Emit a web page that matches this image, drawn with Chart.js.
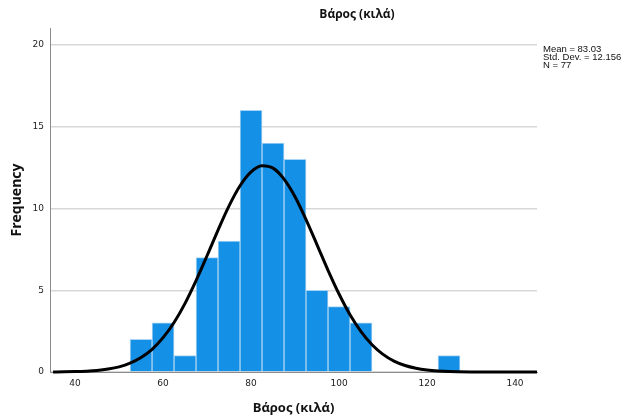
<!DOCTYPE html>
<html>
<head>
<meta charset="utf-8">
<script src="https://cdn.jsdelivr.net/npm/chart.js@4.4.0/dist/chart.umd.min.js"></script>
<style>
    html, body { margin: 0; padding: 0; background: #ffffff; }
    #wrap { width: 628px; height: 416px; }
</style>
</head>
<body>
<div id="wrap"><canvas id="histChart" width="628" height="416"></canvas></div>
<script>
// histogram bins (centre of each 5 kg bin) and counts
const binCenters = [55, 60, 65, 70, 75, 80, 85, 90, 95, 100, 105, 125];
const frequencies = [2, 3, 1, 7, 8, 16, 14, 13, 5, 4, 3, 1];

// normal curve, every 2.5 kg
const curveX = [35, 37.5, 40, 42.5, 45, 47.5, 50, 52.5, 55, 57.5, 60, 62.5, 65, 67.5, 70, 72.5, 75, 77.5, 80, 82.5,
    85, 87.5, 90, 92.5, 95, 97.5, 100, 102.5, 105, 107.5, 110, 112.5, 115, 117.5, 120, 122.5, 125, 130, 135, 140, 145];
const curveY = [0.005, 0.01, 0.024, 0.05, 0.095, 0.18, 0.315, 0.54, 0.885, 1.39, 2.10, 3.03, 4.20, 5.59, 7.11, 8.68, 10.16, 11.39, 12.24, 12.62,
    12.47, 11.80, 10.72, 9.32, 7.78, 6.22, 4.77, 3.50, 2.47, 1.67, 1.08, 0.67, 0.40, 0.23, 0.124, 0.065, 0.033, 0.007, 0.001, 0, 0];

const xTicks = [40, 60, 80, 100, 120, 140];
const yTicks = [0, 5, 10, 15, 20];

const chartTitle = 'Βάρος (κιλά)';
const xTitle = 'Βάρος (κιλά)';
const yTitle = 'Frequency';
const statLines = ['Mean = 83.03', 'Std. Dev. = 12.156', 'N = 77'];

const tickColor = '#222222';
const gridColor = '#d8d8d8';
const axisColor = '#8c8c8c';

// title and the stats box are placed by hand, like SPSS does
const textPlugin = {
    id: 'spssText',
    afterDraw(chart) {
        const ctx = chart.ctx;
        ctx.save();
        ctx.fillStyle = '#111111';
        ctx.font = 'bold 12px "Open Sans"';
        ctx.textAlign = 'center';
        ctx.textBaseline = 'middle';
        ctx.fillText(chartTitle, 357, 15);

        ctx.font = '9.5px "Liberation Sans"';
        ctx.textAlign = 'left';
        ctx.textBaseline = 'top';
        statLines.forEach((line, i) => ctx.fillText(line, 543, 45 + i * 8));
        ctx.restore();
    }
};

const ctx = document.getElementById('histChart').getContext('2d');
new Chart(ctx, {
    type: 'bar',
    data: {
        datasets: [{
            type: 'line',
            data: curveX.map((x, i) => ({ x: x, y: curveY[i] })),
            borderColor: '#000000',
            borderWidth: 3,
            pointRadius: 0,
            cubicInterpolationMode: 'monotone',
            fill: false,
            clip: false,
            order: 0
        }, {
            type: 'bar',
            data: binCenters.map((x, i) => ({ x: x, y: frequencies[i] })),
            backgroundColor: '#1490e6',
            borderColor: '#a9d4f3',
            borderWidth: 1,
            barPercentage: 1,
            categoryPercentage: 1,
            order: 1
        }]
    },
    options: {
        responsive: false,
        animation: false,
        layout: {
            padding: { left: 0, right: 91, top: 28, bottom: 0 }
        },
        plugins: {
            legend: { display: false },
            tooltip: { enabled: false },
            title: { display: false }
        },
        scales: {
            x: {
                type: 'linear',
                min: 34.3,
                max: 145,
                offset: false,
                afterFit: s => { s.height = 44; },
                afterBuildTicks: s => { s.ticks = xTicks.map(v => ({ value: v })); },
                grid: { display: false, drawTicks: false },
                border: { color: axisColor, width: 1 },
                ticks: {
                    color: tickColor,
                    padding: 6,
                    maxRotation: 0,
                    font: { family: 'DejaVu Sans', size: 9 }
                },
                title: {
                    display: true,
                    text: xTitle,
                    color: '#111111',
                    padding: { top: 5, bottom: 0 },
                    font: { family: 'Open Sans', size: 13, weight: 'bold' }
                }
            },
            y: {
                min: 0,
                max: 21.04,
                afterFit: s => { s.width = 50; },
                afterBuildTicks: s => { s.ticks = yTicks.map(v => ({ value: v })); },
                grid: { color: gridColor, lineWidth: 1.5, drawTicks: false },
                border: { color: axisColor, width: 1 },
                ticks: {
                    color: tickColor,
                    padding: 6,
                    font: { family: 'DejaVu Sans', size: 9 }
                },
                title: {
                    display: true,
                    text: yTitle,
                    color: '#111111',
                    padding: { top: 9, bottom: 4 },
                    font: { family: 'Open Sans', size: 14, weight: 'bold' }
                }
            }
        }
    },
    plugins: [textPlugin]
});
</script>
</body>
</html>
